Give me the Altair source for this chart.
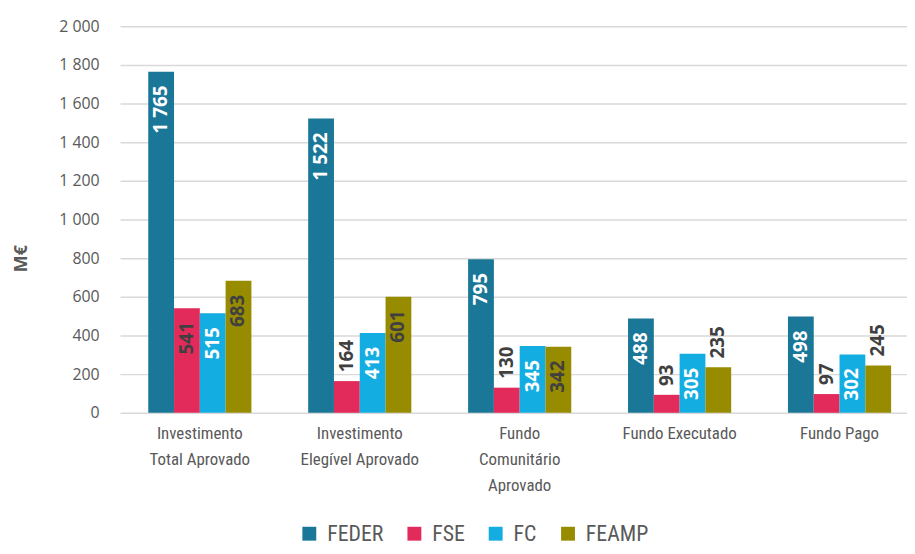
import altair as alt
import pandas as pd

categories = ["Investimento Total Aprovado", "Investimento Elegível Aprovado",
              "Fundo Comunitário Aprovado", "Fundo Executado", "Fundo Pago"]
category_lines = [["Investimento", "Total Aprovado"],
                  ["Investimento", "Elegível Aprovado"],
                  ["Fundo", "Comunitário", "Aprovado"],
                  ["Fundo Executado"],
                  ["Fundo Pago"]]
series = ["FEDER", "FSE", "FC", "FEAMP"]
feder = [1765, 1522, 795, 488, 498]
fse = [541, 164, 130, 93, 97]
fc = [515, 413, 345, 305, 302]
feamp = [683, 601, 342, 235, 245]
colors = ["#1b7797", "#e22b5a", "#14ade2", "#978b00"]
y_ticks = [0, 200, 400, 600, 800, 1000, 1200, 1400, 1600, 1800, 2000]

rows = []
for s, vals in zip(series, [feder, fse, fc, feamp]):
    for c, v in zip(categories, vals):
        rows.append({"category": c, "series": s, "value": v})
df = pd.DataFrame(rows)

def js_list(items):
    return "[" + ",".join("'" + i + "'" for i in items) + "]"

label_expr = ""
for c, lines in zip(categories[:-1], category_lines[:-1]):
    label_expr += f"datum.value == '{c}' ? {js_list(lines)} : "
label_expr += js_list(category_lines[-1])

narrow = "Liberation Sans Narrow, Roboto Condensed, Roboto"
grey = "#595959"

base = alt.Chart(df).encode(
    x=alt.X("category:N", sort=categories, title=None,
            scale=alt.Scale(paddingInner=0.355, paddingOuter=0.138, align=0.64),
            axis=alt.Axis(labelExpr=label_expr, labelAngle=0, labelFont=narrow,
                          labelFontSize=17, labelColor=grey, labelLineHeight=26,
                          labelPadding=13, ticks=False, domain=False, grid=False)),
    xOffset=alt.XOffset("series:N", sort=series,
                        scale=alt.Scale(paddingInner=0, paddingOuter=0)),
    y=alt.Y("value:Q", title="M€",
            scale=alt.Scale(domain=[0, 2000], nice=False),
            axis=alt.Axis(values=y_ticks, format=",d", labelFont="Open Sans",
                          labelFontSize=16, labelColor=grey, labelPadding=21,
                          ticks=False, tickSize=0, domain=False,
                          gridColor="#d9d9d9", gridWidth=1.5,
                          titleFont="Open Sans", titleFontSize=18, titleFontWeight="bold",
                          titleColor=grey, titleAngle=270, titleX=-94, titleY=234,
                          titleAlign="center", titleBaseline="alphabetic")),
)

bars = base.mark_bar().encode(
    color=alt.Color("series:N", sort=series,
                    scale=alt.Scale(domain=series, range=colors),
                    legend=alt.Legend(title=None, orient="none", direction="horizontal",
                                      legendX=180, legendY=501, symbolType="square",
                                      symbolSize=196, symbolStrokeWidth=0,
                                      labelFont=narrow, labelFontSize=22,
                                      labelColor=grey, labelOffset=7,
                                      columnPadding=20, padding=0))
)

label_style = dict(angle=270, baseline="middle", fontWeight="bold",
                   font="Open Sans", fontSize=19)

inside = base.mark_text(align="right", dx=-14, **label_style).encode(
    text=alt.Text("value:Q", format=",d"),
    color=alt.condition("datum.series == 'FEDER' || datum.series == 'FC'",
                        alt.value("white"), alt.value("#404040")),
).transform_filter("datum.value >= 300")

outside = base.mark_text(align="left", dx=9, color="#404040", **label_style).encode(
    text=alt.Text("value:Q", format=",d"),
).transform_filter("datum.value < 300")

chart = alt.layer(bars, inside, outside).properties(
    width=794, height=390, autosize="none",
    padding={"left": 113, "top": 16, "right": 0, "bottom": 132},
).configure(
    locale={"number": {"decimal": ",", "thousands": "\u00a0", "grouping": [3],
                       "currency": ["", " €"]}}
).configure_view(strokeWidth=0)

chart.save("out.html", embed_options={"renderer": "svg", "actions": False})
